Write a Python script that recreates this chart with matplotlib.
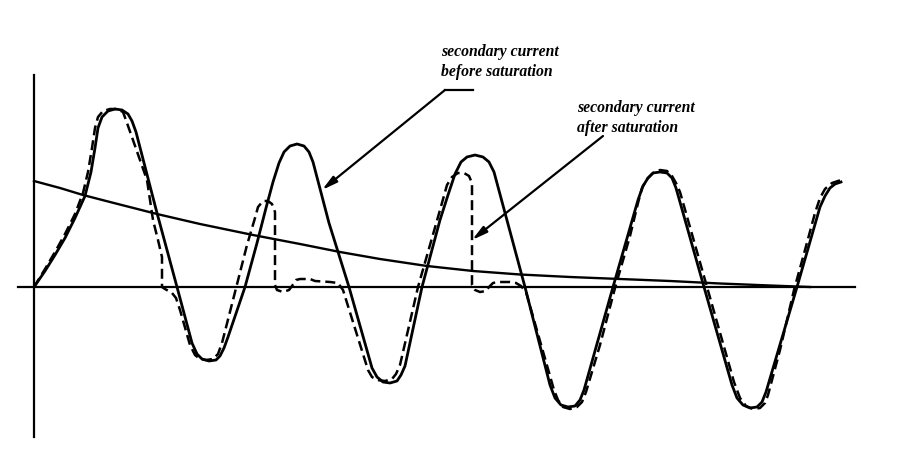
import numpy as np
import matplotlib
matplotlib.use("Agg")
import matplotlib.pyplot as plt

# Curves, in picture units (x to the right, y downwards).
# Origin of the drawn axes sits at (34, 287).

# secondary current before saturation (solid)
solid_x = [34, 45, 55, 65, 75, 85, 91, 95, 98, 102, 108, 115, 122, 128, 132, 136,
           157, 177, 192, 197, 202, 209, 216, 220, 224, 228, 245, 257, 266, 273, 279,
           284, 290, 297, 304, 309, 313, 329, 349, 372, 377, 383, 390, 397, 401, 405,
           422, 440, 448, 455, 461, 467, 475, 483, 489, 494, 522, 525, 550, 555, 561,
           568, 575, 580, 584, 613, 638, 643, 648, 653, 660, 667, 672, 676, 704, 732,
           737, 743, 750, 757, 762, 766, 797, 820, 825, 830, 835, 841]
solid_y = [287, 271, 255, 238, 218, 196, 172, 148, 128, 117, 111, 109, 110, 114, 121, 132,
           213, 287, 343, 354, 359, 361, 360, 356, 348, 337, 287, 243, 208, 182, 163,
           152, 146, 144, 146, 152, 162, 223, 287, 368, 377, 382, 383, 381, 375, 366,
           287, 220, 195, 174, 162, 157, 155, 157, 162, 172, 276, 287, 385, 398, 405,
           407, 406, 400, 390, 287, 200, 186, 178, 173, 172, 173, 178, 188, 287, 385,
           398, 405, 408, 407, 402, 392, 287, 207, 196, 188, 184, 182]

# secondary current after saturation (dashed)
dashed_x = [34, 45, 55, 65, 75, 83, 88, 92, 95, 98, 103, 110, 117, 123, 127, 147,
            153, 158, 162, 162, 165, 172, 176, 180, 190, 195, 200, 206, 213, 218, 222,
            233, 247, 255, 258, 263, 268, 272, 275, 275, 277, 283, 289, 292, 296, 300,
            310, 315, 330, 338, 343, 368, 372, 377, 385, 392, 396, 400, 418, 440, 447,
            452, 458, 464, 469, 472, 472, 475, 480, 486, 489, 493, 498, 510, 516, 521,
            526, 554, 558, 563, 570, 577, 582, 586, 600, 615, 630, 638, 642, 647, 653,
            660, 667, 672, 676, 680, 707, 734, 740, 746, 753, 760, 765, 768, 780, 794,
            805, 815, 820, 825, 832, 841]
dashed_y = [287, 269, 252, 234, 214, 193, 172, 148, 128, 117, 111, 109, 109, 112, 123, 180,
            220, 240, 257, 287, 289, 293, 298, 310, 345, 355, 359, 360, 359, 354, 343,
            300, 245, 218, 207, 201, 201, 204, 212, 285, 290, 292, 290, 286, 280, 279,
            279, 281, 282, 283, 290, 370, 377, 380, 381, 379, 374, 365, 287, 210, 185,
            177, 173, 173, 176, 183, 285, 290, 292, 291, 287, 283, 282, 282, 283, 286,
            292, 390, 400, 407, 409, 407, 402, 392, 345, 288, 236, 203, 188, 179, 173,
            170, 171, 176, 183, 192, 287, 382, 398, 406, 409, 408, 403, 395, 350, 290,
            250, 213, 198, 189, 183, 180]

# decaying DC component
decay_x = [34, 60, 83, 110, 157, 200, 253, 300, 340, 380, 427, 473, 520, 570, 620,
           670, 720, 770, 810]
decay_y = [181, 188, 195, 202, 214, 224, 235, 244, 252, 259, 266, 271, 274.5, 277, 279,
           281, 283.5, 285.5, 287]

label_before = ["secondary current", "before saturation"]
label_after = ["secondary current", "after saturation"]

fig = plt.figure(figsize=(9.08, 4.51), dpi=100)
ax = fig.add_axes([0, 0, 1, 1])
ax.set_xlim(0, 908)
ax.set_ylim(451, 0)
ax.axis('off')

# axes of the sketch
ax.plot([34, 34], [75, 437], color='black', lw=1.6)
ax.plot([18, 855], [287, 287], color='black', lw=1.6)

ax.plot(decay_x, decay_y, color='black', lw=1.7, solid_joinstyle='round')
ax.plot(solid_x, solid_y, color='black', lw=2.0, solid_joinstyle='round')
ax.plot(dashed_x, dashed_y, color='black', lw=1.8, dashes=(4, 2))

# labels
txt = dict(family=['Liberation Serif', 'DejaVu Serif'], style='italic', weight='bold',
           fontsize=11.3, color='black', va='baseline')
ax.text(441, 56, label_before[0], **txt)
ax.text(441, 76, label_before[1], **txt)
ax.text(577, 112, label_after[0], **txt)
ax.text(577, 132, label_after[1], **txt)

# leader lines with arrows
arr = dict(arrowstyle='-|>,head_length=0.9,head_width=0.22', color='black', lw=1.6,
           shrinkA=0, shrinkB=0)
ax.plot([445, 473], [90, 90], color='black', lw=1.6)
ax.annotate('', xy=(322, 190), xytext=(445, 90), arrowprops=arr)
ax.annotate('', xy=(472, 240), xytext=(603, 136), arrowprops=arr)

fig.savefig('out.png', dpi=100, facecolor='white')
